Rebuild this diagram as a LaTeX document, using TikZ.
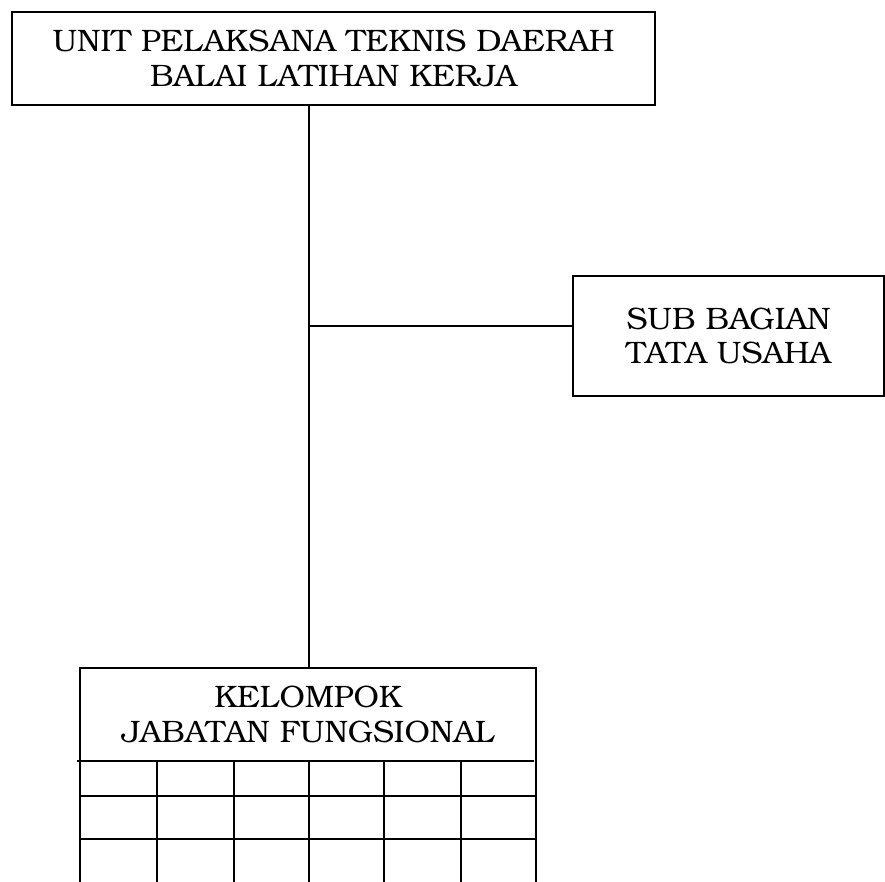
\documentclass[tikz,border=0pt]{standalone}
\usepackage{fontspec}
\setmainfont{TeX Gyre Bonum}[FakeStretch=1.02]
\begin{document}
\begin{tikzpicture}[x=1pt,y=-1pt,
  box/.style={draw,line width=1.5pt,align=center,inner sep=0pt,
    font=\fontsize{31}{34.5}\selectfont},
  ln/.style={line width=1.5pt}]
\useasboundingbox (0,0) rectangle (885,881);
\clip (0,0) rectangle (885,881);
\node[box,minimum width=643,minimum height=93] (top) at (333.5,58.5)
  {UNIT PELAKSANA TEKNIS DAERAH\\BALAI LATIHAN KERJA};
\node[box,minimum width=311,minimum height=120] (sub) at (728.5,336)
  {SUB BAGIAN\\TATA USAHA};
\node[box,draw=none,minimum width=456,minimum height=93] (kel) at (308,714.5)
  {KELOMPOK\\JABATAN FUNGSIONAL};
\coordinate (j) at (309,326);
\draw[ln] (j |- top.south) -- (j |- kel.north);
\draw[ln] (j) -- (j -| sub.west);
% group box and table
\draw[ln] (80,900) -- (80,668) -- (536,668) -- (536,900);
\draw[ln] (77,761) -- (534,761);
\draw[ln] (80,796) -- (536,796);
\draw[ln] (80,839) -- (536,839);
\foreach \cx in {157,234,309,384,461}
  \draw[ln] (\cx,761) -- (\cx,900);
\end{tikzpicture}
\end{document}
